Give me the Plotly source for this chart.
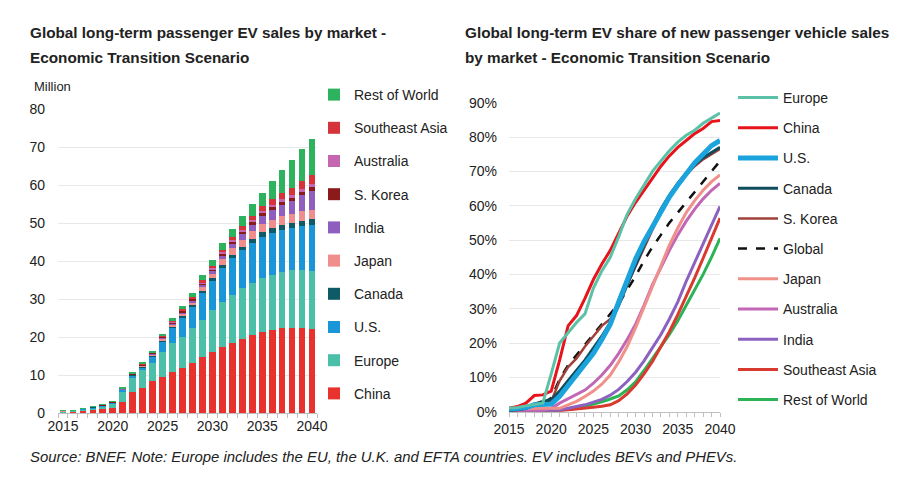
import plotly.graph_objects as go

years = list(range(2015, 2041))

# ---- Left chart: EV sales by market (million) ----
sales_china = [0.2, 0.33, 0.58, 0.8, 1.1, 1.2, 3.0, 5.6, 6.7, 8.3, 9.4, 10.8, 11.8, 13.2, 14.7, 16.0,
               17.4, 18.3, 19.5, 20.4, 21.3, 21.8, 22.4, 22.4, 22.5, 22.1]
sales_europe = [0.19, 0.21, 0.3, 0.4, 0.56, 1.3, 2.5, 3.6, 4.5, 4.9, 6.6, 7.5, 8.1, 9.2, 9.9, 11.0,
                11.7, 12.8, 13.3, 13.7, 14.1, 14.6, 14.7, 15.2, 15.1, 15.3]
sales_us = [0.11, 0.16, 0.2, 0.36, 0.33, 0.3, 0.6, 0.7, 0.9, 1.7, 2.9, 4.1, 5.3, 5.4, 7.0, 7.7,
            9.1, 9.7, 10.0, 10.7, 11.0, 11.0, 11.0, 11.0, 11.6, 12.2]
sales_canada = [0.01, 0.01, 0.02, 0.04, 0.05, 0.05, 0.1, 0.15, 0.2, 0.25, 0.3, 0.4, 0.45, 0.55, 0.6, 0.7,
                0.8, 0.9, 1.0, 1.1, 1.2, 1.3, 1.35, 1.4, 1.45, 1.5]
sales_japan = [0.02, 0.02, 0.05, 0.05, 0.04, 0.03, 0.1, 0.15, 0.2, 0.3, 0.4, 0.5, 0.6, 0.8, 1.0, 1.2,
               1.4, 1.6, 1.8, 2.0, 2.1, 2.2, 2.3, 2.3, 2.4, 2.4]
sales_india = [0.0, 0.0, 0.0, 0.0, 0.0, 0.01, 0.02, 0.05, 0.08, 0.1, 0.15, 0.2, 0.3, 0.4, 0.5, 0.7,
               0.9, 1.1, 1.4, 1.7, 2.1, 2.5, 3.0, 3.5, 4.2, 5.0]
sales_korea = [0.003, 0.005, 0.015, 0.05, 0.05, 0.05, 0.1, 0.15, 0.2, 0.25, 0.3, 0.35, 0.4, 0.45, 0.5, 0.55,
               0.6, 0.65, 0.7, 0.75, 0.8, 0.85, 0.9, 0.9, 0.95, 1.0]
sales_australia = [0.0, 0.0, 0.0, 0.0, 0.0, 0.01, 0.02, 0.03, 0.05, 0.07, 0.1, 0.12, 0.15, 0.2, 0.25, 0.3,
                   0.35, 0.4, 0.45, 0.5, 0.55, 0.6, 0.65, 0.7, 0.75, 0.8]
sales_sea = [0.0, 0.0, 0.0, 0.0, 0.01, 0.01, 0.02, 0.05, 0.08, 0.1, 0.15, 0.2, 0.25, 0.35, 0.45, 0.55,
             0.7, 0.8, 1.0, 1.1, 1.3, 1.5, 1.7, 1.9, 2.1, 2.4]
sales_row = [0.02, 0.03, 0.04, 0.06, 0.08, 0.1, 0.2, 0.25, 0.3, 0.4, 0.5, 0.7, 0.8, 1.0, 1.3, 1.6,
             1.9, 2.3, 2.6, 3.0, 3.4, 4.8, 6.0, 7.2, 8.3, 9.5]

bar_series = [
    ("China", sales_china, "#e8322d"),
    ("Europe", sales_europe, "#4cbfa9"),
    ("U.S.", sales_us, "#1a96d8"),
    ("Canada", sales_canada, "#0e5a66"),
    ("Japan", sales_japan, "#f08d8d"),
    ("India", sales_india, "#8e5fbf"),
    ("S. Korea", sales_korea, "#8b1a1a"),
    ("Australia", sales_australia, "#c466b0"),
    ("Southeast Asia", sales_sea, "#d4343a"),
    ("Rest of World", sales_row, "#2db35d"),
]

# ---- Right chart: EV share of new passenger vehicle sales (%) ----
share_europe = [1.0, 1.2, 1.7, 2.0, 2.5, 11, 20, 23, 26, 28.5, 36, 41, 45, 51, 57.5, 62,
                66, 70, 73, 76, 78.5, 80.5, 82, 84, 85.5, 87]
share_china = [1.0, 1.5, 2.5, 4.7, 4.9, 6.0, 15, 25, 28, 33, 38.5, 43, 47, 52, 57, 61,
               64.5, 68, 71.5, 74.5, 77, 79, 81, 82.5, 84.5, 84.8]
share_us = [0.7, 0.9, 1.2, 2.0, 2.0, 2.2, 4.5, 7.5, 10.5, 13.5, 17, 21, 25.5, 32, 38.5, 44.5,
            49.5, 54, 58.5, 62.5, 66, 69.5, 72.5, 75, 77.5, 79]
share_canada = [0.3, 0.5, 0.9, 2.2, 3.0, 3.5, 6, 9, 12, 15, 18.5, 22, 26, 31, 37, 43,
                48.5, 54, 59, 63, 66.5, 69.5, 72, 74, 75.5, 77]
share_korea = [0.2, 0.4, 1.0, 2.0, 2.5, 3.0, 9, 13, 15.5, 19, 22, 25, 27, 31.5, 37, 42.5,
               48, 53, 58, 62.5, 66, 69, 71.5, 73.5, 75, 76.5]
share_global = [0.7, 0.9, 1.4, 2.2, 2.5, 4.0, 9.5, 13.5, 16.5, 19.5, 22.5, 25.5, 28.5, 31.5, 35.5, 39.5,
                44, 48, 51.5, 55, 58, 61, 64, 67, 70, 73]
share_japan = [0.6, 0.6, 1.0, 1.0, 0.8, 0.8, 1.0, 2, 3, 4.4, 6, 8, 10.7, 14.5, 19, 24.5,
               30.5, 37, 43, 48.5, 53.5, 58, 61.5, 64.5, 67, 69]
share_australia = [0.2, 0.2, 0.2, 0.3, 0.5, 1.0, 2.5, 3.8, 5, 6.3, 8.3, 10.7, 13.5, 17, 21, 25.5,
                   31, 37, 42, 47, 51.5, 55.5, 59, 62, 64.5, 66.5]
share_india = [0.0, 0.0, 0.0, 0.0, 0.1, 0.2, 0.5, 1.0, 1.5, 2.0, 2.8, 3.6, 4.8, 6.5, 8.8, 11.5,
               14.8, 18.5, 22.5, 27, 32, 38, 43.5, 49, 54.5, 59.8]
share_sea = [0.0, 0.0, 0.0, 0.0, 0.1, 0.2, 0.3, 0.5, 0.8, 1.0, 1.3, 1.6, 2.0, 3.2, 5.2, 7.8,
             11, 14.6, 18.8, 23.3, 28.3, 33.5, 39, 44.7, 50.5, 56.4]
share_row = [0.0, 0.0, 0.0, 0.0, 0.1, 0.2, 0.4, 0.7, 1.1, 1.6, 2.2, 2.9, 3.7, 4.6, 6.4, 8.7,
             12, 15.5, 19, 22.5, 26.5, 31, 35.5, 40, 45, 50.5]

line_series = [
    ("Europe", share_europe, "#5bc2a8", 3, "solid"),
    ("China", share_china, "#e8141c", 3, "solid"),
    ("U.S.", share_us, "#1aa3dc", 5, "solid"),
    ("Canada", share_canada, "#0f4c5c", 3, "solid"),
    ("S. Korea", share_korea, "#a0403a", 2.5, "solid"),
    ("Global", share_global, "#111111", 2.5, "dash"),
    ("Japan", share_japan, "#f0908a", 3, "solid"),
    ("Australia", share_australia, "#c167b5", 3, "solid"),
    ("India", share_india, "#8c62c0", 3, "solid"),
    ("Southeast Asia", share_sea, "#d83a30", 3, "solid"),
    ("Rest of World", share_row, "#2bb356", 3, "solid"),
]

W, H = 917, 484
OFF = 8  # page body margin
FONT = "Liberation Sans, Arial, sans-serif"
TXT = "#222222"

fig = go.Figure()

nb = len(bar_series)
for i, (name, vals, col) in enumerate(bar_series):
    fig.add_trace(go.Bar(x=years, y=vals, name=name, marker=dict(color=col, line=dict(width=0)),
                         xaxis="x", yaxis="y", legend="legend", legendgroup="L" + name,
                         legendrank=nb - i))

line_names = [n for n, *_ in line_series]
# draw lines so that earlier legend items sit on top
for name, vals, col, w, dash in reversed(line_series):
    fig.add_trace(go.Scatter(x=years, y=vals, name=name, mode="lines",
                             line=dict(color=col, width=w, dash=dash),
                             xaxis="x2", yaxis="y2", legend="legend2", legendgroup="R" + name,
                             legendrank=line_names.index(name) + 1))


def px_x(p):
    return (p - OFF) / W


def px_y(p):
    return 1 - (p - OFF) / H


fig.update_layout(
    width=W, height=H,
    margin=dict(l=0, r=0, t=0, b=0, autoexpand=False),
    paper_bgcolor="white", plot_bgcolor="white",
    font=dict(family=FONT, size=14, color=TXT),
    barmode="stack", bargap=0.33,
    showlegend=True,
    xaxis=dict(domain=[px_x(58), px_x(317)], range=[2014.5, 2040.5],
               tickvals=[2015, 2020, 2025, 2030, 2035, 2040], ticks="",
               showline=True, linecolor="#bfbfbf", linewidth=1, showgrid=False,
               minor=dict(tick0=2014.5, dtick=1, ticks="outside", ticklen=4, tickcolor="#bfbfbf"),
               tickfont=dict(size=14, color=TXT), zeroline=False, fixedrange=True, automargin=False),
    yaxis=dict(domain=[px_y(413), px_y(109)], range=[0, 80], dtick=10,
               showgrid=True, gridcolor="#e8e8e8", gridwidth=1, zeroline=False,
               tickfont=dict(size=14, color=TXT), ticklabelstandoff=12, fixedrange=True, automargin=False),
    xaxis2=dict(domain=[px_x(509), px_x(720)], range=[2015, 2040],
                tickvals=[2015, 2020, 2025, 2030, 2035, 2040], ticks="outside", ticklen=4,
                tickcolor="#bfbfbf",
                showline=True, linecolor="#bfbfbf", linewidth=1, showgrid=False,
                minor=dict(dtick=1, ticks="outside", ticklen=4, tickcolor="#bfbfbf"),
                tickfont=dict(size=14, color=TXT), zeroline=False, anchor="y2", fixedrange=True,
                automargin=False),
    yaxis2=dict(domain=[px_y(411.7), px_y(102.7)], range=[0, 90], dtick=10,
                ticksuffix="%", showgrid=True, gridcolor="#e8e8e8", gridwidth=1, zeroline=False,
                tickfont=dict(size=14, color=TXT), ticklabelstandoff=11, anchor="x2", fixedrange=True,
                automargin=False),
    legend=dict(x=px_x(314), y=px_y(79), xanchor="left", yanchor="top",
                traceorder="grouped", tracegroupgap=12,
                font=dict(size=14, color=TXT), bgcolor="rgba(0,0,0,0)", itemwidth=30),
    legend2=dict(x=px_x(733), y=px_y(82), xanchor="left", yanchor="top",
                 traceorder="grouped", tracegroupgap=9,
                 font=dict(size=14, color=TXT), bgcolor="rgba(0,0,0,0)", itemwidth=40),
)

annos = [
    dict(text="<b>Global long-term passenger EV sales by market -</b>", x=28, y=33, size=15.3),
    dict(text="<b>Economic Transition Scenario</b>", x=28, y=58, size=15.3),
    dict(text="<b>Global long-term EV share of new passenger vehicle sales</b>", x=463, y=33, size=15.3),
    dict(text="<b>by market - Economic Transition Scenario</b>", x=463, y=58, size=15.3),
    dict(text="Million", x=32, y=87, size=13),
    dict(text="<i>Source: BNEF. Note: Europe includes the EU, the U.K. and EFTA countries. EV includes BEVs and PHEVs.</i>",
         x=28, y=457, size=14.9),
]
for a in annos:
    fig.add_annotation(text=a["text"], x=px_x(a["x"]), y=px_y(a["y"]), xref="paper", yref="paper",
                       xanchor="left", yanchor="middle", showarrow=False,
                       font=dict(size=a["size"], color=TXT, family=FONT))

fig.write_html("out.html")
